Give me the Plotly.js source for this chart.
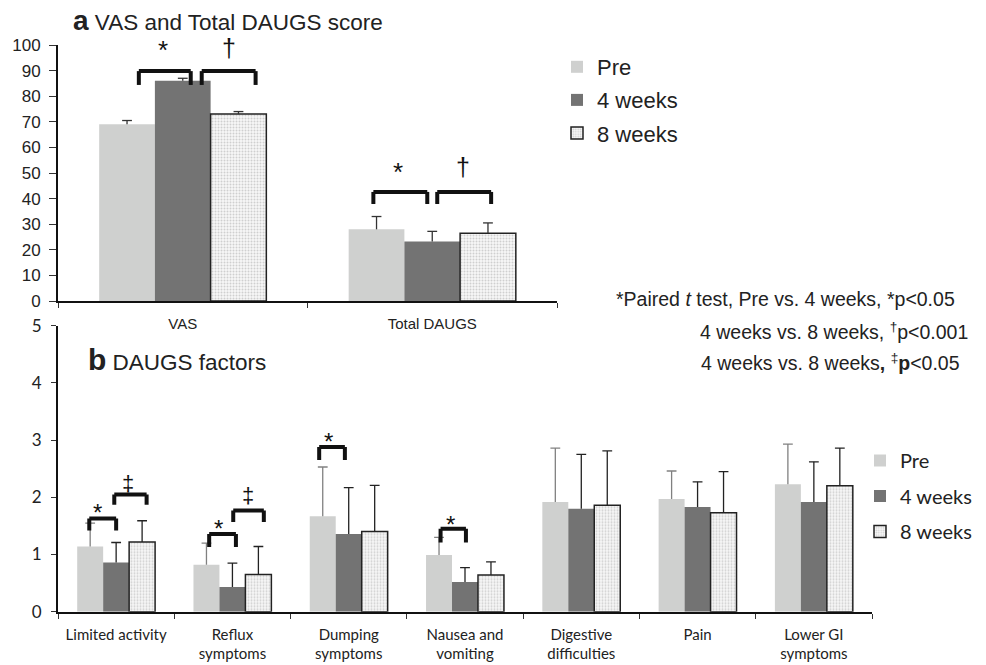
<!DOCTYPE html>
<html><head><meta charset="utf-8">
<script src="https://cdn.plot.ly/plotly-3.0.1.min.js"></script>
<style>html,body{margin:0;padding:0;background:#fff}</style>
</head><body>
<div id="chart" style="width:986px;height:665px"></div>
<script>
// ---- Panel a data ----
const catsA = ["VAS", "Total DAUGS"];
const preA = [69, 28];
const preAErr = [1.5, 5];
const w4A = [86, 23.2];
const w4AErr = [1, 4];
const w8A = [73, 26.5];
const w8AErr = [1, 4];

// ---- Panel b data ----
const catsB = ["Limited activity", "Reflux<br>symptoms", "Dumping<br>symptoms", "Nausea and<br>vomiting", "Digestive<br>difficulties", "Pain", "Lower GI<br>symptoms"];
const preB = [1.14, 0.82, 1.67, 0.99, 1.92, 1.97, 2.23];
const preBErr = [0.41, 0.38, 0.86, 0.31, 0.94, 0.49, 0.70];
const w4B = [0.86, 0.43, 1.36, 0.52, 1.80, 1.83, 1.92];
const w4BErr = [0.35, 0.42, 0.81, 0.25, 0.95, 0.44, 0.70];
const w8B = [1.22, 0.65, 1.40, 0.64, 1.86, 1.73, 2.20];
const w8BErr = [0.37, 0.49, 0.81, 0.23, 0.95, 0.72, 0.66];

const seriesNames = ["Pre", "4 weeks", "8 weeks"];

const zeros = a => a.map(() => 0);
const PRE = '#cfd0cf', W4 = '#737373';
const pat = {shape: '.', bgcolor: '#f8f8f8', fgcolor: '#cfcfcf', size: 3, solidity: 0.35};

function bar(x, y, err, i, xa, ya, leg, errColor) {
  const t = {
    type: 'bar', x: x, y: y, name: seriesNames[i], xaxis: xa, yaxis: ya, legend: leg,
    legendgroup: leg + i, offsetgroup: String(i), alignmentgroup: xa,
    error_y: {type: 'data', symmetric: false, array: err, arrayminus: zeros(err), color: errColor, thickness: 1.3, width: 0},
    marker: {color: i === 0 ? PRE : (i === 1 ? W4 : '#f8f8f8'), line: {width: i === 2 ? 1.5 : 0, color: '#222'}},
    hoverinfo: 'x+y'
  };
  if (i === 2) t.marker.pattern = pat;
  return t;
}
// caps at the top of each error bar
function cap(x, y, err, i, xa, ya, color) {
  return {
    type: 'scatter', mode: 'markers', orientation: 'v', x: x, y: y.map((v, k) => v + err[k]),
    xaxis: xa, yaxis: ya, showlegend: false, offsetgroup: String(i), alignmentgroup: xa,
    marker: {symbol: 'line-ew', size: 7, line: {width: 1.3, color: color}}, hoverinfo: 'skip'
  };
}

const data = [
  bar(catsA, preA, preAErr, 0, 'x', 'y', 'legend', '#333'),
  bar(catsA, w4A, w4AErr, 1, 'x', 'y', 'legend', '#333'),
  bar(catsA, w8A, w8AErr, 2, 'x', 'y', 'legend', '#333'),
  bar(catsB, preB, preBErr, 0, 'x2', 'y2', 'legend2', '#808080'),
  bar(catsB, w4B, w4BErr, 1, 'x2', 'y2', 'legend2', '#222'),
  bar(catsB, w8B, w8BErr, 2, 'x2', 'y2', 'legend2', '#222'),
  cap(catsA, preA, preAErr, 0, 'x', 'y', '#333'),
  cap(catsA, w4A, w4AErr, 1, 'x', 'y', '#333'),
  cap(catsA, w8A, w8AErr, 2, 'x', 'y', '#333'),
  cap(catsB, preB, preBErr, 0, 'x2', 'y2', '#808080'),
  cap(catsB, w4B, w4BErr, 1, 'x2', 'y2', '#222'),
  cap(catsB, w8B, w8BErr, 2, 'x2', 'y2', '#222')
];

const AR = 'Liberation Sans, Arial, sans-serif';
const CB = 'Lato, Open Sans, sans-serif';

function bracket(xa, ya, x0, x1, yTop, yBot) {
  const l = {color: '#111', width: 4};
  return [
    {type: 'line', xref: xa, yref: ya, x0: x0, x1: x1, y0: yTop, y1: yTop, line: l},
    {type: 'line', xref: xa, yref: ya, x0: x0, x1: x0, y0: yTop, y1: yBot, line: l},
    {type: 'line', xref: xa, yref: ya, x0: x1, x1: x1, y0: yTop, y1: yBot, line: l}
  ];
}

const shapes = [].concat(
  bracket('x', 'y', -0.176, 0.032, 89.8, 84.4),
  bracket('x', 'y', 0.076, 0.292, 89.8, 84.4),
  bracket('x', 'y', 1 - 0.236, 1 - 0.02, 42.6, 37.9),
  bracket('x', 'y', 1 + 0.02, 1 + 0.236, 42.6, 37.9),
  bracket('x2', 'y2', -0.231, 0.0, 1.63, 1.42),
  bracket('x2', 'y2', -0.016, 0.262, 2.05, 1.87),
  bracket('x2', 'y2', 1 - 0.2, 1 + 0.03, 1.36, 1.13),
  bracket('x2', 'y2', 1 + 0.007, 1 + 0.27, 1.77, 1.57),
  bracket('x2', 'y2', 2 - 0.254, 2 - 0.033, 2.88, 2.65),
  bracket('x2', 'y2', 3 - 0.21, 3 + 0.008, 1.45, 1.21)
);

function sym(xa, ya, x, y, t, size) {
  return {xref: xa, yref: ya, x: x, y: y, text: t, showarrow: false, xanchor: 'center', yanchor: 'middle',
    font: {family: AR, size: size, color: '#111'}};
}

const annotations = [
  {xref: 'paper', yref: 'paper', x: 71 / 986, y: 1 - 20 / 665, xanchor: 'left', yanchor: 'middle', showarrow: false,
   text: '<span style="font-size:28px"><b>a</b></span> VAS and Total DAUGS score', font: {family: AR, size: 22.5, color: '#222'}},
  {xref: 'paper', yref: 'paper', x: 86 / 986, y: 1 - 359 / 665, xanchor: 'left', yanchor: 'middle', showarrow: false,
   text: '<span style="font-size:30px"><b>b</b></span> DAUGS factors', font: {family: AR, size: 22.5, color: '#222'}},
  sym('x', 'y', -0.08, 98, '*', 26),
  sym('x', 'y', 0.184, 99, '†', 25),
  sym('x', 'y', 1 - 0.136, 50.4, '*', 26),
  sym('x', 'y', 1 + 0.124, 52.5, '†', 25),
  sym('x2', 'y2', -0.157, 1.73, '*', 24),
  sym('x2', 'y2', 0.101, 2.24, '‡', 22),
  sym('x2', 'y2', 1 - 0.116, 1.45, '*', 24),
  sym('x2', 'y2', 1.133, 2.03, '‡', 22),
  sym('x2', 'y2', 2 - 0.17, 2.97, '*', 24),
  sym('x2', 'y2', 3 - 0.121, 1.53, '*', 24),
  {xref: 'paper', yref: 'paper', x: 957 / 986, y: 1 - 299 / 665, xanchor: 'right', yanchor: 'middle', showarrow: false,
   text: '*Paired <i>t</i> test, Pre vs. 4 weeks, *p&lt;0.05', font: {family: AR, size: 19.5, color: '#222'}},
  {xref: 'paper', yref: 'paper', x: 970 / 986, y: 1 - 331 / 665, xanchor: 'right', yanchor: 'middle', showarrow: false,
   text: '4 weeks vs. 8 weeks, <sup>†</sup>p&lt;0.001', font: {family: AR, size: 19.5, color: '#222'}},
  {xref: 'paper', yref: 'paper', x: 962 / 986, y: 1 - 362 / 665, xanchor: 'right', yanchor: 'middle', showarrow: false,
   text: '4 weeks vs. 8 weeks<b>,</b> <sup>‡</sup><b>p</b>&lt;0.05', font: {family: AR, size: 19.5, color: '#222'}}
];

const layout = {
  width: 986, height: 665,
  margin: {l: 0, r: 0, t: 0, b: 0},
  paper_bgcolor: '#fff', plot_bgcolor: 'rgba(0,0,0,0)',
  barmode: 'group', bargap: 0.33, bargroupgap: 0,
  scattermode: 'group', scattergap: 0.33,
  showlegend: true,
  xaxis: {domain: [58 / 986, 557 / 986], anchor: 'y', type: 'category', showline: true, linecolor: '#111', linewidth: 2,
    ticks: 'outside', tickson: 'boundaries', ticklen: 5, tickcolor: '#333', showgrid: false, ticklabelstandoff: 8,
    tickfont: {family: AR, size: 15, color: '#222'}},
  yaxis: {domain: [1 - 301 / 665, 1 - 45 / 665], anchor: 'x', range: [0, 100], dtick: 10, showline: true, linecolor: '#111', linewidth: 2,
    ticks: 'outside', ticklen: 7, tickcolor: '#333', showgrid: false, zeroline: false, ticklabelstandoff: 5,
    tickfont: {family: AR, size: 17, color: '#222'}},
  xaxis2: {domain: [58 / 986, 872 / 986], anchor: 'y2', type: 'category', showline: true, linecolor: '#111', linewidth: 2,
    ticks: 'outside', tickson: 'boundaries', ticklen: 5, tickcolor: '#333', showgrid: false, ticklabelstandoff: 8,
    tickfont: {family: CB, size: 15, color: '#222'}},
  yaxis2: {domain: [1 - 611.7 / 665, 1 - 325.7 / 665], anchor: 'x2', range: [0, 5], dtick: 1, showline: true, linecolor: '#111', linewidth: 2,
    ticks: 'outside', ticklen: 5, tickcolor: '#333', showgrid: false, zeroline: false, ticklabelstandoff: 6,
    tickfont: {family: CB, size: 17, color: '#222'}},
  legend: {x: 557 / 986, y: 1 - 46 / 665, xanchor: 'left', yanchor: 'top', traceorder: 'grouped', tracegroupgap: 1.5,
    font: {family: AR, size: 22, color: '#222'}, bgcolor: 'rgba(0,0,0,0)'},
  legend2: {x: 860 / 986, y: 1 - 441 / 665, xanchor: 'left', yanchor: 'top', traceorder: 'grouped', tracegroupgap: 6.5,
    font: {family: CB, size: 20, color: '#222'}, bgcolor: 'rgba(0,0,0,0)'},
  shapes: shapes,
  annotations: annotations
};

Plotly.newPlot('chart', data, layout, {displayModeBar: false, staticPlot: true});
</script>
</body></html>
